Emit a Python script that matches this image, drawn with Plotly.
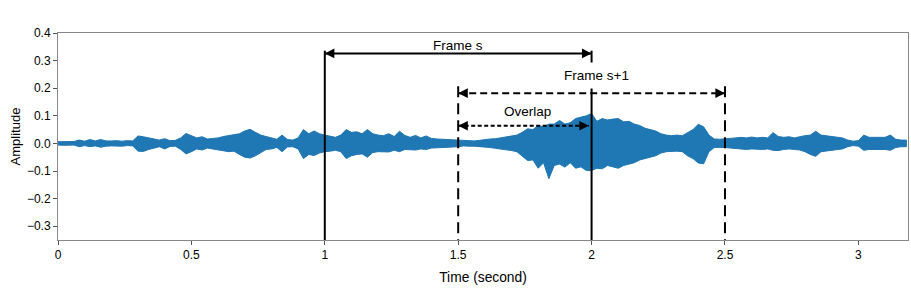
import plotly.graph_objects as go

# ---- data (envelope of the waveform, 0.02 s steps) ----
step = 0.02
upper = [0.006, 0.007, 0.006, 0.007, 0.012, 0.008, 0.014, 0.009, 0.014, 0.009,
         0.009, 0.010, 0.008, 0.010, 0.009, 0.027, 0.024, 0.020, 0.014, 0.012,
         0.017, 0.010, 0.011, 0.020, 0.036, 0.028, 0.020, 0.024, 0.016, 0.018,
         0.020, 0.025, 0.028, 0.030, 0.035, 0.045, 0.051, 0.040, 0.030, 0.025,
         0.020, 0.015, 0.030, 0.014, 0.012, 0.020, 0.050, 0.035, 0.045, 0.035,
         0.030, 0.025, 0.022, 0.030, 0.050, 0.040, 0.042, 0.035, 0.050, 0.035,
         0.030, 0.028, 0.035, 0.025, 0.044, 0.029, 0.022, 0.029, 0.020, 0.027,
         0.018, 0.016, 0.015, 0.014, 0.014, 0.012, 0.010, 0.010, 0.009, 0.011,
         0.014, 0.016, 0.017, 0.020, 0.022, 0.025, 0.030, 0.040, 0.053, 0.050,
         0.065, 0.060, 0.070, 0.070, 0.083, 0.070, 0.075, 0.090, 0.095, 0.100,
         0.108, 0.080, 0.090, 0.085, 0.088, 0.090, 0.078, 0.080, 0.070, 0.065,
         0.055, 0.050, 0.045, 0.035, 0.030, 0.028, 0.030, 0.028, 0.040, 0.050,
         0.069, 0.060, 0.030, 0.016, 0.015, 0.016, 0.018, 0.020, 0.022, 0.020,
         0.023, 0.020, 0.022, 0.020, 0.039, 0.025, 0.022, 0.024, 0.020, 0.025,
         0.028, 0.030, 0.044, 0.030, 0.028, 0.025, 0.022, 0.020, 0.012, 0.008,
         0.010, 0.030, 0.022, 0.022, 0.024, 0.022, 0.030, 0.015, 0.012, 0.012]
lower = [-0.006, -0.007, -0.007, -0.006, -0.012, -0.008, -0.012, -0.009, -0.014, -0.010,
         -0.009, -0.009, -0.010, -0.008, -0.009, -0.028, -0.029, -0.022, -0.016, -0.012,
         -0.020, -0.011, -0.010, -0.022, -0.038, -0.030, -0.020, -0.024, -0.017, -0.019,
         -0.022, -0.027, -0.030, -0.028, -0.040, -0.050, -0.053, -0.045, -0.035, -0.022,
         -0.020, -0.015, -0.030, -0.013, -0.012, -0.020, -0.055, -0.040, -0.044, -0.035,
         -0.030, -0.028, -0.025, -0.030, -0.055, -0.045, -0.040, -0.038, -0.050, -0.033,
         -0.030, -0.030, -0.031, -0.025, -0.030, -0.022, -0.022, -0.024, -0.020, -0.022,
         -0.017, -0.016, -0.015, -0.014, -0.013, -0.012, -0.009, -0.010, -0.010, -0.010,
         -0.013, -0.015, -0.018, -0.020, -0.024, -0.026, -0.030, -0.045, -0.062, -0.060,
         -0.090, -0.070, -0.128, -0.080, -0.075, -0.086, -0.070, -0.090, -0.085, -0.098,
         -0.098, -0.090, -0.092, -0.080, -0.085, -0.090, -0.080, -0.075, -0.070, -0.060,
         -0.055, -0.050, -0.045, -0.035, -0.030, -0.028, -0.028, -0.030, -0.045, -0.055,
         -0.071, -0.074, -0.030, -0.015, -0.015, -0.015, -0.017, -0.020, -0.020, -0.022,
         -0.020, -0.021, -0.022, -0.020, -0.025, -0.026, -0.022, -0.020, -0.022, -0.024,
         -0.030, -0.040, -0.047, -0.030, -0.028, -0.026, -0.022, -0.020, -0.012, -0.008,
         -0.010, -0.025, -0.022, -0.023, -0.022, -0.022, -0.025, -0.015, -0.012, -0.012]

x_ticks = [0, 0.5, 1, 1.5, 2, 2.5, 3]
x_tick_labels = ["0", "0.5", "1", "1.5", "2", "2.5", "3"]
y_ticks = [-0.3, -0.2, -0.1, 0.0, 0.1, 0.2, 0.3, 0.4]
y_tick_labels = ["\u22120.3", "\u22120.2", "\u22120.1", "0.0", "0.1", "0.2", "0.3", "0.4"]

frame_s = [1.0, 2.0]
frame_s1 = [1.5, 2.5]
overlap = [1.5, 2.0]
duration = 3.186

times = [i * step for i in range(len(upper))]
poly_t = times + times[::-1]
poly_a = upper + lower[::-1]

FONT = "Liberation Sans, Arial, sans-serif"
fig = go.Figure()
fig.add_trace(go.Scatter(x=poly_t, y=poly_a, mode="lines", fill="toself",
                         fillcolor="#1f77b4",
                         line=dict(color="#1f77b4", width=1), showlegend=False,
                         hoverinfo="skip"))

shapes = []
ymin = -0.35
for xv in frame_s:
    shapes.append(dict(type="line", xref="x", yref="y", x0=xv, x1=xv, y0=0.336, y1=ymin,
                       line=dict(color="black", width=2)))
for xv in frame_s1:
    shapes.append(dict(type="line", xref="x", yref="y", x0=xv, x1=xv, y0=0.207, y1=ymin,
                       line=dict(color="black", width=2, dash="11px,6px")))
shapes.append(dict(type="line", xref="x", yref="y", x0=frame_s[0], x1=frame_s[1],
                   y0=0.326, y1=0.326, line=dict(color="black", width=2)))
shapes.append(dict(type="line", xref="x", yref="y", x0=frame_s1[0], x1=frame_s1[1],
                   y0=0.182, y1=0.182, line=dict(color="black", width=2, dash="7px,4px")))
shapes.append(dict(type="line", xref="x", yref="y", x0=overlap[0], x1=overlap[1] - 0.01,
                   y0=0.064, y1=0.064, line=dict(color="black", width=2, dash="4px,2.5px")))

annotations = []
def heads(x0, x1, y):
    for tip, tail in ((x0, x0 + 0.035), (x1, x1 - 0.035)):
        annotations.append(dict(x=tip, y=y, ax=tail, ay=y, xref="x", yref="y",
                                axref="x", ayref="y", text="", showarrow=True,
                                arrowhead=2, arrowsize=1.2, arrowwidth=1.6,
                                arrowcolor="black"))
heads(frame_s[0], frame_s[1], 0.326)
heads(frame_s1[0], frame_s1[1], 0.182)
heads(overlap[0], overlap[1] - 0.01, 0.064)

annotations.append(dict(x=1.5, y=0.354, xref="x", yref="y", text="Frame s",
                        showarrow=False, font=dict(family=FONT, size=13.5, color="black")))
annotations.append(dict(x=2.02, y=0.245, xref="x", yref="y", text="Frame s+1",
                        showarrow=False, bgcolor="white", borderpad=5,
                        font=dict(family=FONT, size=13.5, color="black")))
annotations.append(dict(x=1.76, y=0.114, xref="x", yref="y", text="Overlap",
                        showarrow=False, font=dict(family=FONT, size=13.5, color="black")))

fig.update_layout(
    width=911, height=292,
    margin=dict(l=58, r=3, t=33, b=52),
    paper_bgcolor="white", plot_bgcolor="white",
    shapes=shapes, annotations=annotations,
    font=dict(family=FONT, color="black"),
    xaxis=dict(range=[0, duration], tickvals=x_ticks, ticktext=x_tick_labels,
               automargin=False,
               showgrid=False, zeroline=False, showline=True, mirror=True,
               linecolor="#888", linewidth=1, ticks="outside", ticklen=4,
               tickcolor="#555", tickfont=dict(size=12, family=FONT),
               title=dict(text="Time (second)", font=dict(size=13.8, family=FONT),
                          standoff=10)),
    yaxis=dict(range=[-0.35, 0.4], tickvals=y_ticks, ticktext=y_tick_labels,
               automargin=False,
               showgrid=False, zeroline=False, showline=True, mirror=True,
               linecolor="#888", linewidth=1, ticks="outside", ticklen=4,
               tickcolor="#555", tickfont=dict(size=12, family=FONT),
               title=dict(text="Amplitude", font=dict(size=13, family=FONT),
                          standoff=3)),
)

fig.write_html("out.html", config={"displayModeBar": False},
               post_script="document.body.style.margin='0';document.body.style.padding='0';")
